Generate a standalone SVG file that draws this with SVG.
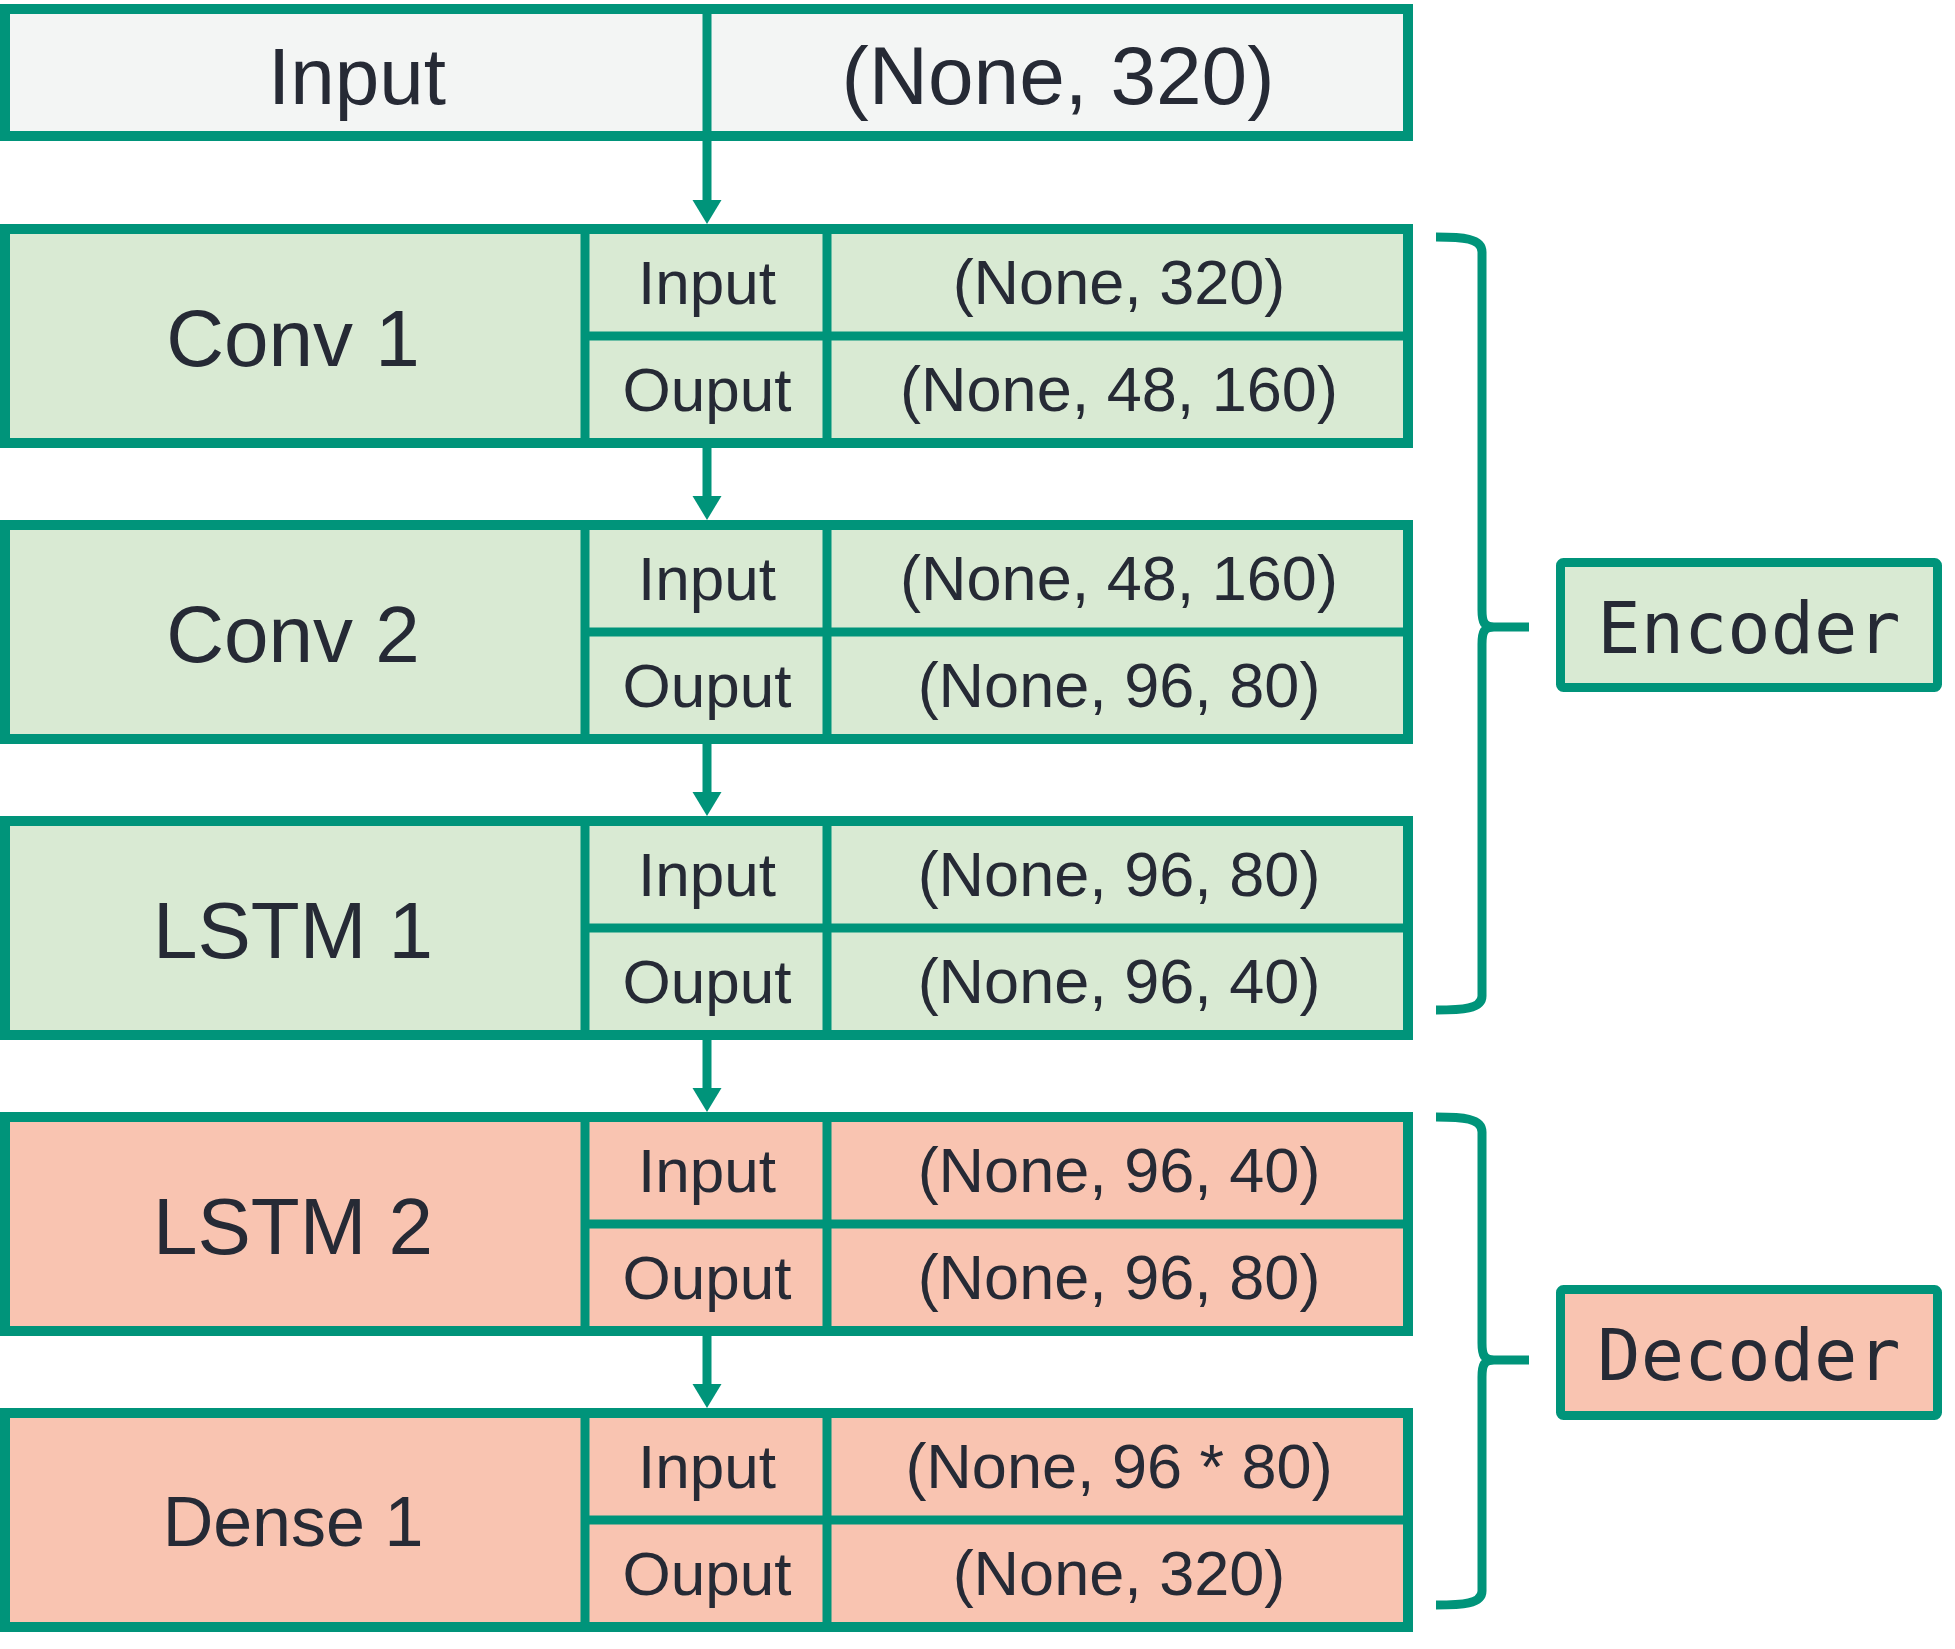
<svg xmlns="http://www.w3.org/2000/svg" width="1955" height="1649" viewBox="0 0 1955 1649">
<style>
.box{stroke:#00947A;stroke-width:10;}
.div{stroke:#00947A;stroke-width:9;fill:none;}
.gray{fill:#F3F5F4;}
.green{fill:#D9EAD3;}
.salmon{fill:#F9C4B1;}
.big{font-family:"Liberation Sans",Arial,sans-serif;font-size:80px;fill:#262A35;text-anchor:middle;}
.mid{font-family:"Liberation Sans",Arial,sans-serif;font-size:62px;fill:#262A35;text-anchor:middle;}
.val{font-family:"Liberation Sans",Arial,sans-serif;font-size:63px;fill:#262A35;text-anchor:middle;}
.mono{font-family:"DejaVu Sans Mono",monospace;font-size:72px;fill:#262A35;text-anchor:middle;}
.conn{stroke:#00947A;stroke-width:9;fill:none;}
.brace{stroke:#00947A;stroke-width:9;fill:none;stroke-linecap:butt;}
</style>
<defs>
<marker id="arr" markerUnits="userSpaceOnUse" markerWidth="26" markerHeight="30" refX="0" refY="14.5" orient="auto">
<path d="M0,0 L24,14.5 L0,29 Z" fill="#00947A"/>
</marker>
</defs>
<rect width="1955" height="1649" fill="#FFFFFF"/>

<g id="connectors">
<line class="conn" x1="707" y1="141" x2="707" y2="200" marker-end="url(#arr)"/>
<line class="conn" x1="707" y1="448" x2="707" y2="496" marker-end="url(#arr)"/>
<line class="conn" x1="707" y1="744" x2="707" y2="792" marker-end="url(#arr)"/>
<line class="conn" x1="707" y1="1040" x2="707" y2="1088" marker-end="url(#arr)"/>
<line class="conn" x1="707" y1="1336" x2="707" y2="1384" marker-end="url(#arr)"/>
</g>

<g id="input">
<rect class="box gray" x="5" y="9" width="1403" height="127"/>
<line class="div" x1="707" y1="9" x2="707" y2="136"/>
<text class="big" x="357" y="104">Input</text>
<text class="big" x="1058" y="104" style="font-size:82px">(None, 320)</text>
</g>

<g id="conv1">
<rect class="box green" x="5" y="229" width="1403" height="214"/>
<line class="div" x1="585" y1="229" x2="585" y2="443"/>
<line class="div" x1="827" y1="229" x2="827" y2="443"/>
<line class="div" x1="585" y1="336" x2="1408" y2="336"/>
<text class="big" x="293" y="366">Conv 1</text>
<text class="mid" x="707" y="304">Input</text>
<text class="mid" x="707" y="411">Ouput</text>
<text class="val" x="1119" y="304">(None, 320)</text>
<text class="val" x="1119" y="411">(None, 48, 160)</text>
</g>

<g id="conv2">
<rect class="box green" x="5" y="525" width="1403" height="214"/>
<line class="div" x1="585" y1="525" x2="585" y2="739"/>
<line class="div" x1="827" y1="525" x2="827" y2="739"/>
<line class="div" x1="585" y1="632" x2="1408" y2="632"/>
<text class="big" x="293" y="662">Conv 2</text>
<text class="mid" x="707" y="600">Input</text>
<text class="mid" x="707" y="707">Ouput</text>
<text class="val" x="1119" y="600">(None, 48, 160)</text>
<text class="val" x="1119" y="707">(None, 96, 80)</text>
</g>

<g id="lstm1">
<rect class="box green" x="5" y="821" width="1403" height="214"/>
<line class="div" x1="585" y1="821" x2="585" y2="1035"/>
<line class="div" x1="827" y1="821" x2="827" y2="1035"/>
<line class="div" x1="585" y1="928" x2="1408" y2="928"/>
<text class="big" x="293" y="958">LSTM 1</text>
<text class="mid" x="707" y="896">Input</text>
<text class="mid" x="707" y="1003">Ouput</text>
<text class="val" x="1119" y="896">(None, 96, 80)</text>
<text class="val" x="1119" y="1003">(None, 96, 40)</text>
</g>

<g id="lstm2">
<rect class="box salmon" x="5" y="1117" width="1403" height="214"/>
<line class="div" x1="585" y1="1117" x2="585" y2="1331"/>
<line class="div" x1="827" y1="1117" x2="827" y2="1331"/>
<line class="div" x1="585" y1="1224" x2="1408" y2="1224"/>
<text class="big" x="293" y="1254">LSTM 2</text>
<text class="mid" x="707" y="1192">Input</text>
<text class="mid" x="707" y="1299">Ouput</text>
<text class="val" x="1119" y="1192">(None, 96, 40)</text>
<text class="val" x="1119" y="1299">(None, 96, 80)</text>
</g>

<g id="dense1">
<rect class="box salmon" x="5" y="1413" width="1403" height="214"/>
<line class="div" x1="585" y1="1413" x2="585" y2="1627"/>
<line class="div" x1="827" y1="1413" x2="827" y2="1627"/>
<line class="div" x1="585" y1="1520" x2="1408" y2="1520"/>
<text class="big" x="293" y="1546" style="font-size:70px">Dense 1</text>
<text class="mid" x="707" y="1488">Input</text>
<text class="mid" x="707" y="1595">Ouput</text>
<text class="val" x="1119" y="1488">(None, 96 * 80)</text>
<text class="val" x="1119" y="1595">(None, 320)</text>
</g>

<g id="encoder-brace">
<path class="brace" d="M1436,237 C1462,237 1482,238 1482,252 L1482,610 C1482,622 1484,627 1494,627 L1529,627 M1494,627 C1484,627 1482,632 1482,644 L1482,996 C1482,1009 1462,1010 1436,1010"/>
</g>
<g id="encoder">
<rect class="div green" x="1560.5" y="562.5" width="377" height="125" rx="3"/>
<text class="mono" x="1749" y="653">Encoder</text>
</g>

<g id="decoder-brace">
<path class="brace" d="M1436,1117 C1462,1117 1482,1118 1482,1132 L1482,1343 C1482,1355 1484,1360 1494,1360 L1529,1360 M1494,1360 C1484,1360 1482,1365 1482,1377 L1482,1591 C1482,1604 1462,1605 1436,1605"/>
</g>
<g id="decoder">
<rect class="div salmon" x="1560.5" y="1289.5" width="377" height="126" rx="3"/>
<text class="mono" x="1749" y="1380">Decoder</text>
</g>
</svg>
